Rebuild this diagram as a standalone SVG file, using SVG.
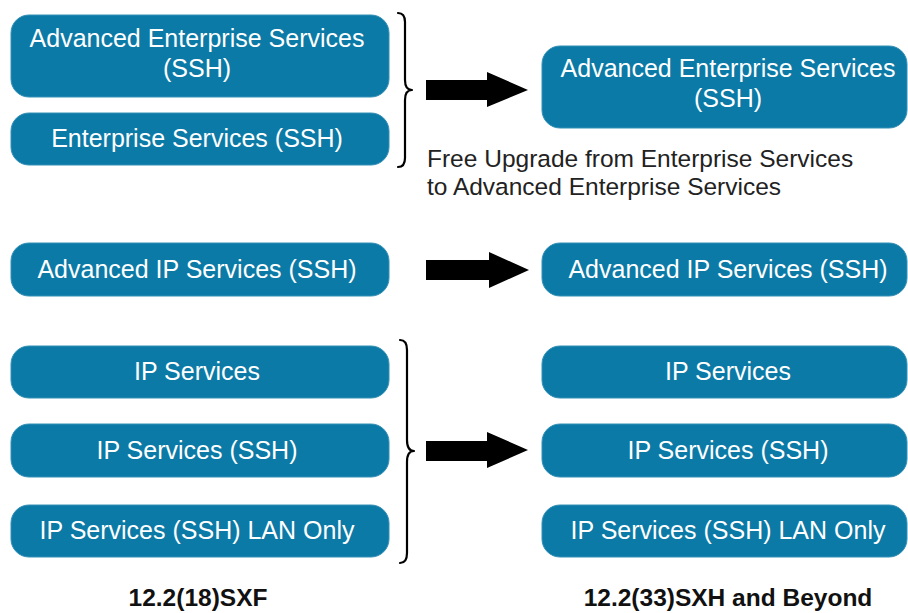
<svg xmlns="http://www.w3.org/2000/svg" width="908" height="613" viewBox="0 0 908 613">
<style>
.box{fill:#0b7aa6;stroke:#3590b6;stroke-width:1}
.bt{font-family:"Liberation Sans",Arial,sans-serif;font-size:25px;fill:#ffffff;text-anchor:middle}
.note{font-family:"Liberation Sans",Arial,sans-serif;font-size:24.5px;fill:#222222}
.lbl{font-family:"Liberation Sans",Arial,sans-serif;font-size:24.5px;font-weight:bold;fill:#111111;text-anchor:middle}
.brace{fill:none;stroke:#000000;stroke-width:2.2;stroke-linecap:round;stroke-linejoin:round}
.arrow{fill:#000000}
</style>
<rect width="908" height="613" fill="#ffffff"/>
<g id="n-aes-left"><rect class="box" x="11" y="15" width="378" height="82" rx="18"/><text class="bt" x="197" y="47">Advanced Enterprise Services</text><text class="bt" x="197" y="77">(SSH)</text></g>
<g id="n-es-left"><rect class="box" x="11" y="113" width="378" height="52" rx="18"/><text class="bt" x="197" y="147">Enterprise Services (SSH)</text></g>
<g id="n-aes-right"><rect class="box" x="542" y="46" width="365" height="82" rx="18"/><text class="bt" x="728" y="77">Advanced Enterprise Services</text><text class="bt" x="728" y="107">(SSH)</text></g>
<g id="n-note"><text class="note" x="427" y="167">Free Upgrade from Enterprise Services</text><text class="note" x="427" y="195">to Advanced Enterprise Services</text></g>
<g id="n-aip-left"><rect class="box" x="11" y="243" width="378" height="53" rx="18"/><text class="bt" x="197" y="278">Advanced IP Services (SSH)</text></g>
<g id="n-aip-right"><rect class="box" x="542" y="243" width="365" height="53" rx="18"/><text class="bt" x="728" y="278">Advanced IP Services (SSH)</text></g>
<g id="n-ip-left"><rect class="box" x="11" y="346" width="378" height="52" rx="18"/><text class="bt" x="197" y="380">IP Services</text></g>
<g id="n-ipssh-left"><rect class="box" x="11" y="424" width="378" height="53" rx="18"/><text class="bt" x="197" y="459">IP Services (SSH)</text></g>
<g id="n-iplan-left"><rect class="box" x="11" y="505" width="378" height="52" rx="18"/><text class="bt" x="197" y="539">IP Services (SSH) LAN Only</text></g>
<g id="n-ip-right"><rect class="box" x="542" y="346" width="365" height="52" rx="18"/><text class="bt" x="728" y="380">IP Services</text></g>
<g id="n-ipssh-right"><rect class="box" x="542" y="424" width="365" height="53" rx="18"/><text class="bt" x="728" y="459">IP Services (SSH)</text></g>
<g id="n-iplan-right"><rect class="box" x="542" y="505" width="365" height="52" rx="18"/><text class="bt" x="728" y="539">IP Services (SSH) LAN Only</text></g>
<g id="n-label-left"><text class="lbl" x="198" y="606">12.2(18)SXF</text></g>
<g id="n-label-right"><text class="lbl" x="728" y="606">12.2(33)SXH and Beyond</text></g>
<g id="connectors">
<path class="brace" d="M398,13 Q405,13 405,22 L405,80 Q405,90 412,90 Q405,90 405,100 L405,158 Q405,167 398,167"/>
<path class="brace" d="M400,340 Q407,340 407,350 L407,440 Q407,451 414,451 Q407,451 407,462 L407,553 Q407,563 400,563"/>
<polygon class="arrow" points="426,80 487,80 487,72 528,90 487,107 487,100 426,100"/>
<polygon class="arrow" points="426,260 489,260 489,252 529,270 489,288 489,280 426,280"/>
<polygon class="arrow" points="426,441 487,441 487,432 528,450 487,468 487,461 426,461"/>
</g>
</svg>
